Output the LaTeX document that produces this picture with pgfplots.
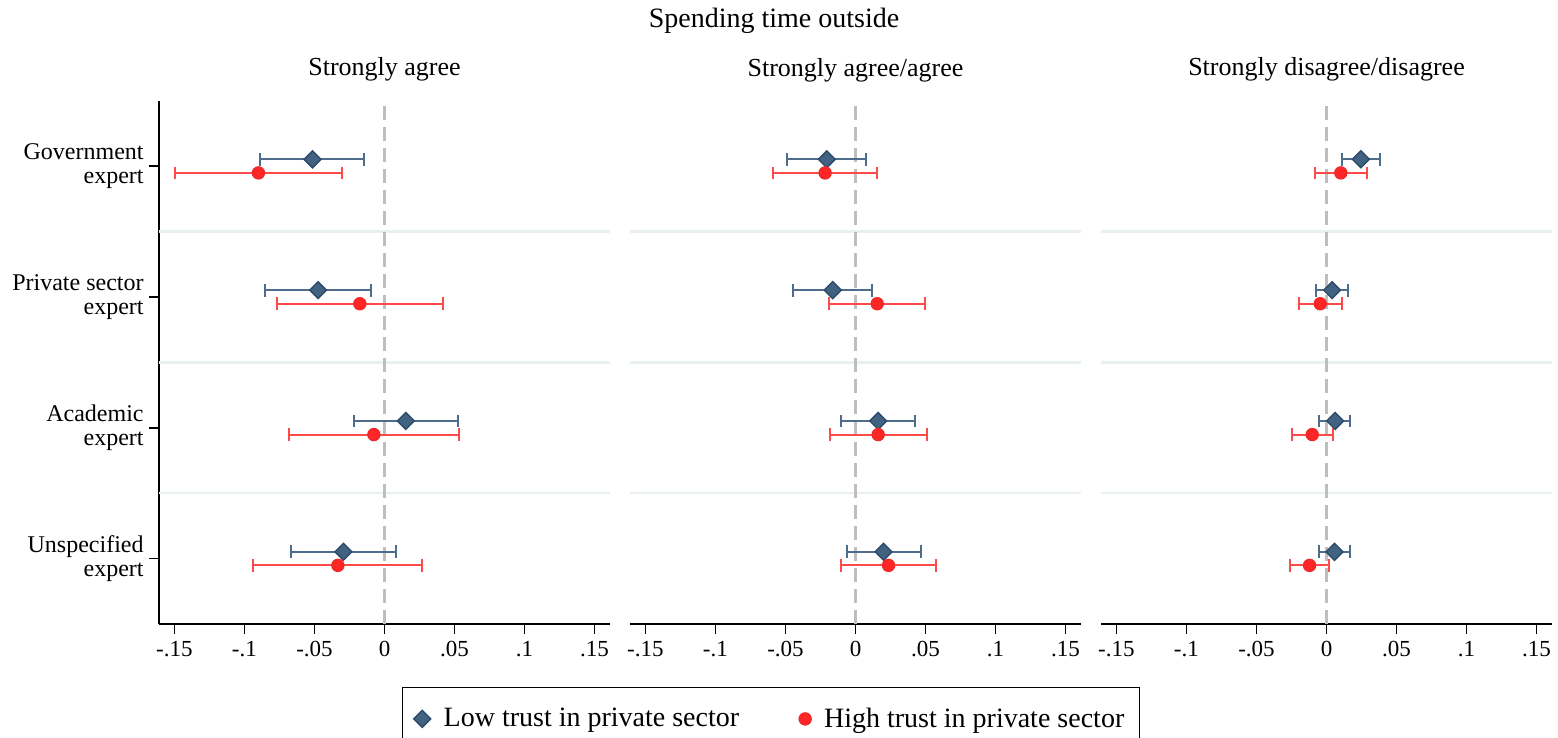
\documentclass[border=0pt]{standalone}
\usepackage{fontspec}
\setmainfont{Liberation Serif}
\usepackage{pgfplots}
\pgfplotsset{compat=1.18}
\usepackage{pgfplotstable}
\definecolor{bline}{RGB}{78,108,140}
\definecolor{bfill}{RGB}{66,98,130}
\definecolor{bedge}{RGB}{44,74,106}
\definecolor{rline}{RGB}{255,74,74}
\definecolor{rfill}{RGB}{255,38,38}
\definecolor{redge}{RGB}{240,40,40}
\definecolor{sepc}{RGB}{232,240,242}
\definecolor{zline}{RGB}{190,190,190}

% categories: 4 Government, 3 Private sector, 2 Academic, 1 Unspecified
\pgfplotstableread{
x y lo hi
-0.0514 4.052 -0.0890 -0.0143
-0.0474 3.052 -0.0850 -0.0098
0.0152 2.052 -0.0219 0.0526
-0.0293 1.052 -0.0667 0.0079
}\PaLow
\pgfplotstableread{
x y lo hi
-0.0900 3.948 -0.1495 -0.0302
-0.0176 2.948 -0.0767 0.0419
-0.0076 1.948 -0.0683 0.0531
-0.0333 0.948 -0.0938 0.0271
}\PaHigh
\pgfplotstableread{
x y lo hi
-0.0205 4.052 -0.0488 0.0076
-0.0162 3.052 -0.0445 0.0119
0.0162 2.052 -0.0102 0.0424
0.0200 1.052 -0.0064 0.0464
}\PbLow
\pgfplotstableread{
x y lo hi
-0.0217 3.948 -0.0590 0.0155
0.0155 2.948 -0.0186 0.0493
0.0162 1.948 -0.0183 0.0507
0.0236 0.948 -0.0105 0.0576
}\PbHigh
\pgfplotstableread{
x y lo hi
0.0245 4.052 0.0110 0.0381
0.0040 3.052 -0.0074 0.0152
0.0062 2.052 -0.0052 0.0171
0.0057 1.052 -0.0057 0.0169
}\PcLow
\pgfplotstableread{
x y lo hi
0.0102 3.948 -0.0081 0.0288
-0.0045 2.948 -0.0200 0.0110
-0.0102 1.948 -0.0248 0.0043
-0.0121 0.948 -0.0264 0.0021
}\PcHigh

\pgfplotsset{
  panel/.style={
    scale only axis, width=225.5pt, height=261.65pt,
    xmin=-0.161, xmax=0.161, ymin=0.5, ymax=4.5,
    xtick={-0.15,-0.1,-0.05,0,0.05,0.1,0.15},
    xticklabels={-.15,-.1,-.05,0,.05,.1,.15},
    tick align=outside, major tick length=5pt,
    axis x line*=bottom,
    axis line style={-, line width=0.8pt, black},
    every tick/.style={line width=0.8pt, black},
    xticklabel style={font=\fontsize{11.5}{12}\selectfont},
    title style={font=\fontsize{13}{15}\selectfont, at={(0.5,1)}, anchor=base, yshift=6.35pt},
    clip=false,
  },
  lowplot/.style={only marks, mark=square*, mark size=3.0pt,
    mark options={rotate=45, fill=bfill, draw=bedge, line width=0.7pt},
    error bars/.cd, x dir=both, x explicit, error mark=|,
    error bar style={line width=1pt, bline},
    error mark options={line width=1pt, bline, mark size=3.2pt}},
  highplot/.style={only marks, mark=*, mark size=3.0pt,
    mark options={fill=rfill, draw=redge, line width=0.7pt},
    error bars/.cd, x dir=both, x explicit, error mark=|,
    error bar style={line width=1pt, rline},
    error mark options={line width=1pt, rline, mark size=3.2pt}},
}
\newcommand{\panelbg}{%
  \draw[sepc, line width=1.2pt] (axis cs:-0.161,1.5) -- (axis cs:0.161,1.5);
  \draw[sepc, line width=1.2pt] (axis cs:-0.161,2.5) -- (axis cs:0.161,2.5);
  \draw[sepc, line width=1.2pt] (axis cs:-0.161,3.5) -- (axis cs:0.161,3.5);
  \draw[zline, line width=1.1pt, dash pattern=on 7pt off 3.5pt] (axis cs:0,0.5) -- (axis cs:0,4.5);
}

\begin{document}
\begin{tikzpicture}
\useasboundingbox (0,0) rectangle (779pt,369pt);
\node[font=\fontsize{14}{16}\selectfont, anchor=base] at (387pt,355pt) {Spending time outside};

\begin{axis}[panel, at={(79.5pt,57pt)}, anchor=south west,
  title={Strongly agree},
  axis y line*=left,
  ytick={1,2,3,4},
  yticklabels={Unspecified\\expert, Academic\\expert, Private sector\\expert, Government\\expert},
  yticklabel style={align=right, font=\fontsize{12}{11.75}\selectfont, inner xsep=2.5pt},
]
\panelbg
\addplot[lowplot] table[x=x, y=y, x error plus expr=\thisrow{hi}-\thisrow{x}, x error minus expr=\thisrow{x}-\thisrow{lo}] {\PaLow};
\addplot[highplot] table[x=x, y=y, x error plus expr=\thisrow{hi}-\thisrow{x}, x error minus expr=\thisrow{x}-\thisrow{lo}] {\PaHigh};
\end{axis}

\begin{axis}[panel, at={(315pt,57pt)}, anchor=south west,
  title={Strongly agree/agree},
  hide y axis,
  legend style={at={(-0.5055,-0.1204)}, anchor=north west, draw=black, line width=0.7pt,
    font=\fontsize{14}{16}\selectfont, legend columns=2,
    inner xsep=5.5pt, inner ysep=8pt,
    /tikz/every odd column/.append style={column sep=4.5pt},
    /tikz/every even column/.append style={column sep=28pt}},
]
\panelbg
\addplot[lowplot] table[x=x, y=y, x error plus expr=\thisrow{hi}-\thisrow{x}, x error minus expr=\thisrow{x}-\thisrow{lo}] {\PbLow};
\addlegendentry{Low trust in private sector}
\addplot[highplot] table[x=x, y=y, x error plus expr=\thisrow{hi}-\thisrow{x}, x error minus expr=\thisrow{x}-\thisrow{lo}] {\PbHigh};
\addlegendentry{High trust in private sector}
\end{axis}

\begin{axis}[panel, at={(550.5pt,57pt)}, anchor=south west,
  title={Strongly disagree/disagree},
  hide y axis,
]
\panelbg
\addplot[lowplot] table[x=x, y=y, x error plus expr=\thisrow{hi}-\thisrow{x}, x error minus expr=\thisrow{x}-\thisrow{lo}] {\PcLow};
\addplot[highplot] table[x=x, y=y, x error plus expr=\thisrow{hi}-\thisrow{x}, x error minus expr=\thisrow{x}-\thisrow{lo}] {\PcHigh};
\end{axis}
\end{tikzpicture}
\end{document}
